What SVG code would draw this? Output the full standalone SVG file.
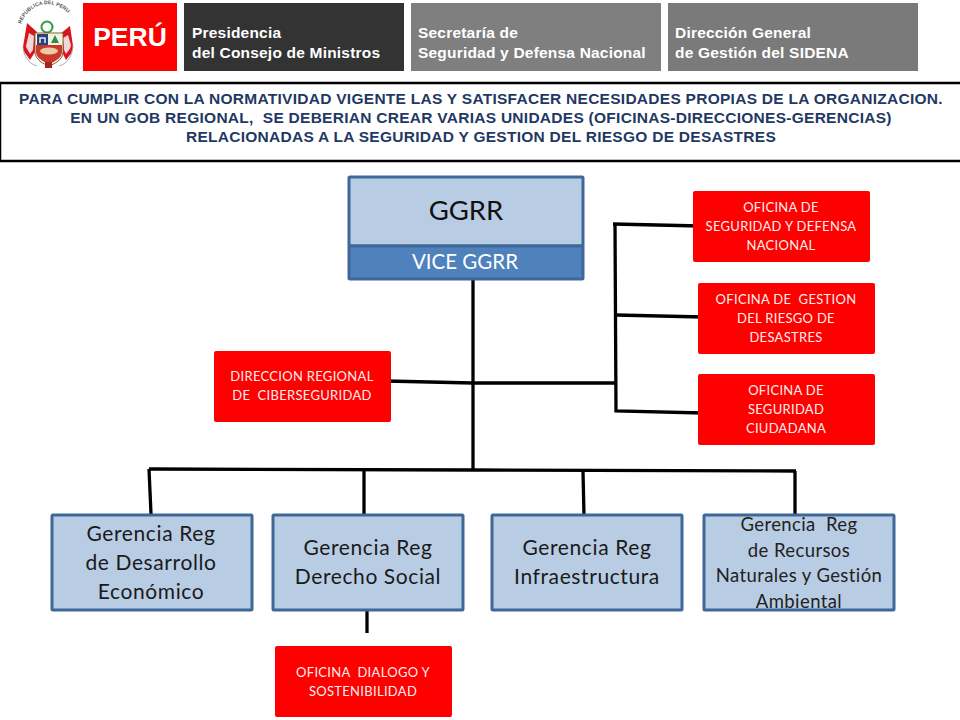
<svg xmlns="http://www.w3.org/2000/svg" width="960" height="720" viewBox="0 0 960 720">
<defs>
<style>
.h{font-family:"Liberation Sans",Arial,sans-serif;font-weight:700;font-size:15.5px;letter-spacing:.2px;fill:#fff}
.t{font-family:"Liberation Sans",Arial,sans-serif;font-weight:700;font-size:15.5px;letter-spacing:.27px;fill:#1f3864;text-anchor:middle;white-space:pre}
.c{font-family:Lato,"Open Sans",sans-serif;text-anchor:middle}
.r{fill:#fe0000}
.rt{font-family:Lato,"Open Sans",sans-serif;font-size:13px;letter-spacing:.3px;fill:#fdeeee;text-anchor:middle;white-space:pre}
.b{fill:#b8cce4;stroke:#3f6797;stroke-width:3}
.g{font-size:21px;letter-spacing:.6px;fill:#1a1a1a}
.l{fill:none;stroke:#000;stroke-width:3.300}
</style>
<path id="arc" d="M21 26A27 27 0 0 1 74 26"/>
</defs>
<rect width="960" height="720" fill="#fff"/>
<g id="crest">
<text font-family="Liberation Sans,sans-serif" font-size="5.2" font-weight="700" fill="#555"><textPath href="#arc" startOffset="2">REPUBLICA DEL PERU</textPath></text>
<path d="M27 23L37 32L35 52L30 60C26 54 22 50 23 47Z" fill="#d8141e"/>
<path d="M70 26L60 34L62 52L66 60C71 54 74 50 73 46Z" fill="#d8141e"/>
<path d="M29 33L34 36L33 50L30 54C28 50 26 48 26 46ZM68 35L63 38L64 50L66 54C69 50 71 48 71 45Z" fill="#f3d6d6"/>
<path d="M23 47C24 58 30 64 37 66M73 46C72 58 66 64 59 66" fill="none" stroke="#aaa"/>
<circle cx="47" cy="27" r="5.500" fill="none" stroke="#2f9a46" stroke-width="2"/>
<path d="M35 33H63V52C63 60 54 64 49 66C44 64 35 60 35 52Z" fill="#fff" stroke="#8a5a20"/>
<rect x="37" y="34" width="11" height="11" fill="#27427f"/>
<path d="M40 43V38H45V43" fill="none" stroke="#e8e8e8" stroke-width="1.500"/>
<rect x="48" y="34" width="14" height="11" fill="#eef3ea"/>
<path d="M51 43L55 35L59 43Z" fill="#3a8a3a"/>
<path d="M36 45H62V52C62 58 54 62 49 64C44 62 36 58 36 52Z" fill="#c8392b"/>
<ellipse cx="49" cy="51" rx="9" ry="3.500" fill="#edc9a8"/>
<rect x="45" y="62" width="7" height="6" fill="#a52222"/>
</g>
<g id="peru"><rect x="83" y="3" width="94" height="68" fill="#fe0000"/>
<text x="130" y="46" font-family="Liberation Sans,sans-serif" font-size="26.500" font-weight="700" fill="#fff" text-anchor="middle">PERÚ</text></g>
<g id="head1"><rect x="184" y="3" width="220" height="68" fill="#333"/>
<text class="h"><tspan x="192" y="38">Presidencia</tspan><tspan x="192" y="58">del Consejo de Ministros</tspan></text></g>
<g id="head2"><rect x="411" y="3" width="250" height="68" fill="#7f7f7f"/>
<text class="h"><tspan x="418" y="38">Secretaría de</tspan><tspan x="418" y="58">Seguridad y Defensa Nacional</tspan></text></g>
<g id="head3"><rect x="668" y="3" width="250" height="68" fill="#7a7a7a"/>
<text class="h"><tspan x="675" y="38">Dirección General</tspan><tspan x="675" y="58">de Gestión del SIDENA</tspan></text></g>
<g id="banner"><rect x="0" y="83" width="980" height="78" fill="#fff" stroke="#000" stroke-width="2.500"/>
<text class="t"><tspan x="481" y="103.500">PARA CUMPLIR CON LA NORMATIVIDAD VIGENTE LAS Y SATISFACER NECESIDADES PROPIAS DE LA ORGANIZACION.</tspan><tspan x="481" y="122.500">EN UN GOB REGIONAL,  SE DEBERIAN CREAR VARIAS UNIDADES (OFICINAS-DIRECCIONES-GERENCIAS)</tspan><tspan x="481" y="141.500">RELACIONADAS A LA SEGURIDAD Y GESTION DEL RIESGO DE DESASTRES</tspan></text></g>
<g id="connectors" class="l">
<path d="M473 280V470"/>
<path d="M386 381L473 383H615"/>
<path d="M615 224L616 411L703 413"/>
<path d="M613 224L700 226"/>
<path d="M616 315L703 317"/>
<path d="M149 469L474 470L796 471"/>
<path d="M149 469L151 514"/>
<path d="M364 470V514"/>
<path d="M583 471L584 516"/>
<path d="M795 471V514"/>
<path d="M367 610V633"/>
</g>
<g id="ggrr"><rect x="349" y="177" width="234" height="69" rx="1" class="b"/>
<text x="466" y="220" class="c" font-size="27.500" fill="#111">GGRR</text></g>
<g id="vice"><rect x="349" y="246" width="234" height="33" rx="1" fill="#4f81bd" stroke="#3f6797" stroke-width="3"/>
<text x="465" y="269" class="c" font-size="20.500" fill="#fff">VICE GGRR</text></g>
<g id="of1"><rect x="693" y="191" width="177" height="71" rx="2" class="r"/><text class="rt"><tspan x="781" y="212">OFICINA DE</tspan><tspan x="781" y="231">SEGURIDAD Y DEFENSA</tspan><tspan x="781" y="250">NACIONAL</tspan></text></g>
<g id="of2"><rect x="698" y="283" width="177" height="71" rx="2" class="r"/><text class="rt"><tspan x="786" y="304">OFICINA DE  GESTION</tspan><tspan x="786" y="323">DEL RIESGO DE</tspan><tspan x="786" y="342">DESASTRES</tspan></text></g>
<g id="of3"><rect x="698" y="374" width="177" height="71" rx="2" class="r"/><text class="rt"><tspan x="786" y="395">OFICINA DE</tspan><tspan x="786" y="414">SEGURIDAD</tspan><tspan x="786" y="433">CIUDADANA</tspan></text></g>
<g id="dir"><rect x="214" y="351" width="177" height="71" rx="2" class="r"/><text class="rt"><tspan x="302" y="381">DIRECCION REGIONAL</tspan><tspan x="302" y="400">DE  CIBERSEGURIDAD</tspan></text></g>
<g id="ger1"><rect x="52" y="515" width="200" height="95" rx="1" class="b"/><text class="c g"><tspan x="151" y="541">Gerencia Reg</tspan><tspan x="151" y="570">de Desarrollo</tspan><tspan x="151" y="599">Económico</tspan></text></g>
<g id="ger2"><rect x="273" y="515" width="190" height="95" rx="1" class="b"/><text class="c g"><tspan x="368" y="555">Gerencia Reg</tspan><tspan x="368" y="584">Derecho Social</tspan></text></g>
<g id="ger3"><rect x="492" y="515" width="190" height="95" rx="1" class="b"/><text class="c g"><tspan x="587" y="555">Gerencia Reg</tspan><tspan x="587" y="584">Infraestructura</tspan></text></g>
<g id="ger4"><rect x="704" y="515" width="190" height="95" rx="1" class="b"/><text class="c" font-size="18.500" letter-spacing=".4" fill="#222"><tspan x="799" y="531" style="white-space:pre">Gerencia  Reg</tspan><tspan x="799" y="557">de Recursos</tspan><tspan x="799" y="582">Naturales y Gestión</tspan><tspan x="799" y="608">Ambiental</tspan></text></g>
<g id="of4"><rect x="275" y="646" width="177" height="71" rx="2" class="r"/><text class="rt"><tspan x="363" y="677">OFICINA  DIALOGO Y</tspan><tspan x="363" y="696">SOSTENIBILIDAD</tspan></text></g>
</svg>
